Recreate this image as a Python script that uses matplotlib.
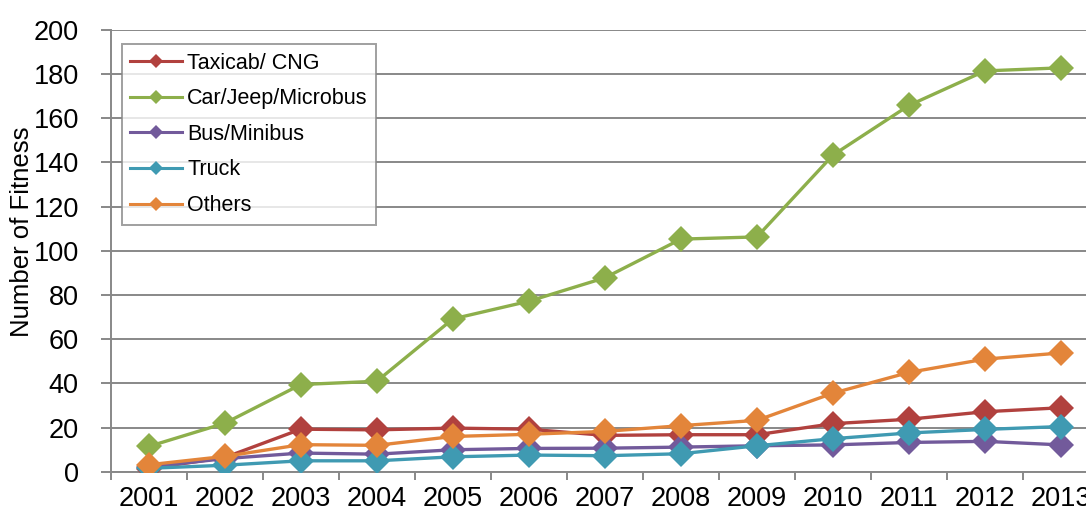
import matplotlib
matplotlib.use('Agg')
import matplotlib.pyplot as plt
from matplotlib.lines import Line2D
import numpy as np

plt.rcParams['font.family'] = ['Liberation Sans', 'DejaVu Sans']

years = ['2001', '2002', '2003', '2004', '2005', '2006', '2007',
         '2008', '2009', '2010', '2011', '2012', '2013']

taxicab = [1.5, 6.5, 19.3, 19.0, 19.8, 19.3, 16.5, 16.8, 16.8, 21.8, 23.8, 27.2, 29.0]
car = [11.5, 22.0, 39.5, 41.0, 69.2, 77.2, 87.8, 105.3, 106.3, 143.3, 165.8, 181.4, 182.8]
bus = [2.2, 6.0, 8.5, 8.0, 10.0, 10.6, 10.7, 11.2, 11.8, 12.2, 13.3, 13.8, 12.2]
truck = [1.6, 3.0, 5.0, 5.0, 6.8, 7.6, 7.3, 8.2, 11.8, 15.0, 17.6, 19.2, 20.5]
others = [3.2, 7.0, 12.3, 12.0, 16.0, 17.0, 18.3, 20.9, 23.3, 35.6, 45.0, 51.0, 53.8]

names = ['Taxicab/ CNG', 'Car/Jeep/Microbus', 'Bus/Minibus', 'Truck', 'Others']
series = [taxicab, car, bus, truck, others]
colors = ['#B1413E', '#8DAF4B', '#725A9B', '#3F9AB2', '#E3853A']

fig = plt.figure(figsize=(10.86, 5.14), dpi=100)
# right edge of the plot runs past the figure, so the last label gets clipped
ax = fig.add_axes([0.102, 0.082, 0.91, 0.860])

x = np.arange(len(years))
for vals, col in zip(series, colors):
    ax.plot(x, vals, color=col, linewidth=2.4, marker='D', markersize=13.5,
            markeredgewidth=0, zorder=3)

ax.set_xlim(-0.5, len(years) - 0.5)
ax.set_ylim(0, 200)
ax.set_yticks(np.arange(0, 201, 20))
ax.yaxis.grid(True, color='#888888', linewidth=1.4)
ax.set_axisbelow(True)

ax.set_xticks(x)
ax.set_xticklabels(years)
ax.set_xticks(np.arange(-0.5, len(years), 1), minor=True)
ax.tick_params(axis='x', which='major', length=0, pad=10, labelsize=19.5)
ax.tick_params(axis='x', which='minor', length=6, width=1.4, color='#888888')
ax.tick_params(axis='y', length=7, width=1.4, color='#888888', labelsize=19.5, pad=16)

for s in ['top', 'right']:
    ax.spines[s].set_visible(False)
for s in ['left', 'bottom']:
    ax.spines[s].set_color('#888888')
    ax.spines[s].set_linewidth(1.4)

fig.text(22 / 1086, 1 - 232 / 514, 'Number of Fitness', rotation=90,
         ha='center', va='center', fontsize=18.5)

handles = [Line2D([], [], color=c, linewidth=2.2, marker='D', markersize=7,
                  markeredgewidth=0) for c in colors]
leg = ax.legend(handles, names, loc='upper left', bbox_to_anchor=(0.011, 0.968),
                borderaxespad=0, fontsize=15.5, frameon=True, fancybox=False,
                handlelength=2.4, labelspacing=0.68, borderpad=0.4,
                handletextpad=0.25)
leg.get_frame().set_edgecolor('#888888')
leg.get_frame().set_linewidth(1.4)

fig.savefig('out.png', dpi=100)
